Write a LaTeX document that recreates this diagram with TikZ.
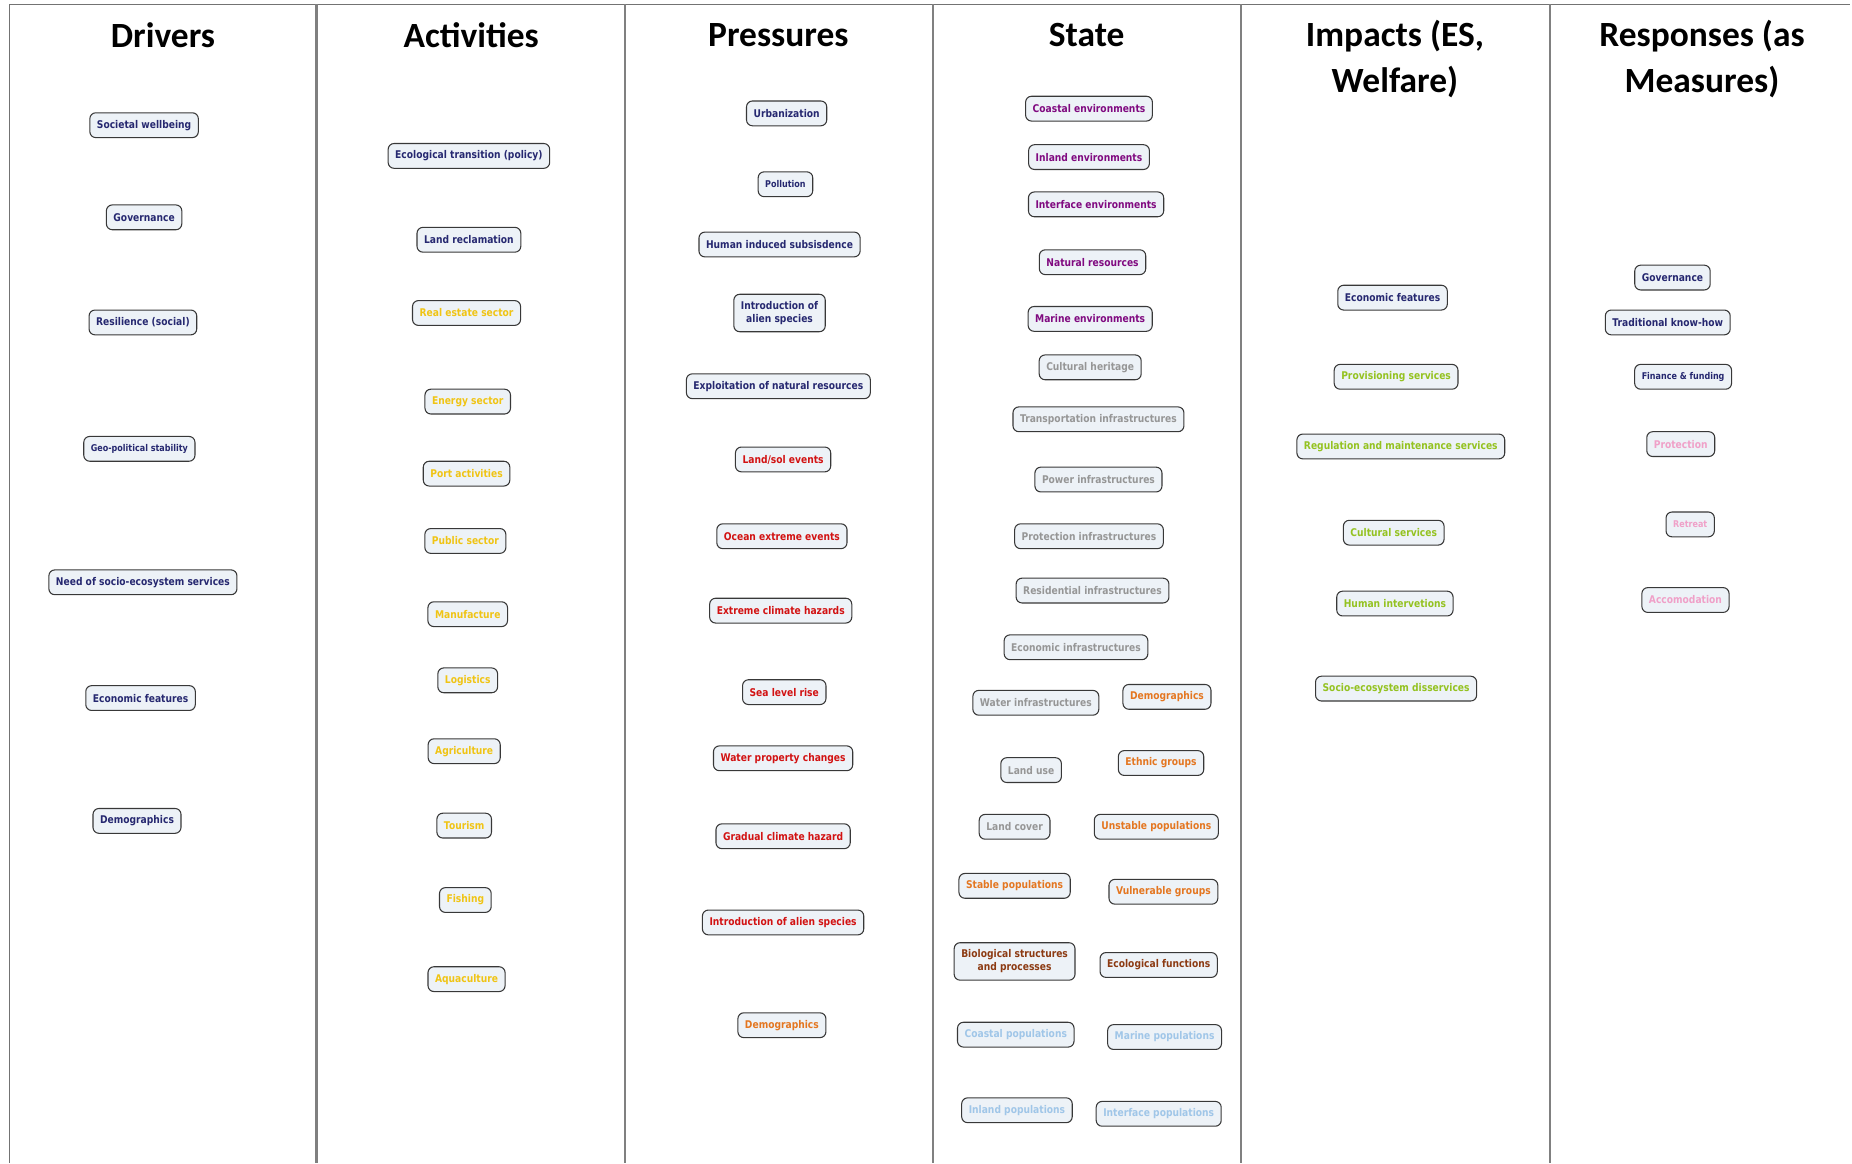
\documentclass[tikz,border=0pt]{standalone}
\usepackage{fontspec}
\newfontfamily\boxfont[FakeStretch=0.86]{DejaVu Sans}
\newfontfamily\headfont{Carlito}
\definecolor{boxfill}{RGB}{237,242,247}
\definecolor{navytext}{RGB}{38,40,112}
\definecolor{goldtext}{RGB}{240,196,20}
\definecolor{redtext}{RGB}{210,18,18}
\definecolor{orangetext}{RGB}{228,118,32}
\definecolor{purpletext}{RGB}{128,10,128}
\definecolor{graytext}{RGB}{150,150,150}
\definecolor{browntext}{RGB}{140,58,18}
\definecolor{bluetext}{RGB}{160,198,232}
\definecolor{greentext}{RGB}{148,194,32}
\definecolor{pinktext}{RGB}{240,160,200}

\begin{document}
\begin{tikzpicture}[x=1pt, y=-1pt]
    \tikzset{
        box/.style = {rectangle, draw=black!78, fill=boxfill, line width=0.9pt, rounded corners=5pt, inner xsep=6pt, inner ysep=6pt, minimum height=21pt, align=center, yshift=-1pt, font=\boxfont\bfseries\fontsize{9}{11}\selectfont},
        small/.style = {font=\boxfont\bfseries\fontsize{7.9}{9.5}\selectfont},
        head/.style = {align=center, font=\headfont\bfseries\fontsize{30}{39}\selectfont},
        divider/.style = {draw=black!50, line width=1.8pt},
        border/.style = {draw=black!55, line width=1pt},
        navybox/.style = {box, text=navytext},
        goldbox/.style = {box, text=goldtext},
        redbox/.style = {box, text=redtext},
        orangebox/.style = {box, text=orangetext},
        purplebox/.style = {box, text=purpletext},
        graybox/.style = {box, text=graytext},
        brownbox/.style = {box, text=browntext},
        bluebox/.style = {box, text=bluetext},
        greenbox/.style = {box, text=greentext},
        pinkbox/.style = {box, text=pinktext},
    }
    \useasboundingbox (0,0) rectangle (1568,985);

    % frame and columns
    \draw[border] (8,3.5) -- (1566,3.5);
    \draw[border] (8,3.5) -- (8,985);
    \draw[divider] (268,3.5) -- (268,985);
    \draw[divider] (529,3.5) -- (529,985);
    \draw[divider] (790,3.5) -- (790,985);
    \draw[divider] (1051,3.5) -- (1051,985);
    \draw[divider] (1312,3.5) -- (1312,985);

    % headings
    \node[head](drivers) at (138,30){Drivers};
    \node[head](activities) at (399,30){Activities};
    \node[head](pressures) at (659,30){Pressures};
    \node[head](state) at (920,30){State};
    \node[head](impacts) at (1181,50){Impacts (ES,\\Welfare)};
    \node[head](responses) at (1441,50){Responses (as\\Measures)};

    % drivers
    \node[navybox](wellbeing) at (122,105){Societal wellbeing};
    \node[navybox](governance) at (122,183){Governance};
    \node[navybox](resilience) at (121,272){Resilience (social)};
    \node[navybox, small](geopolitic) at (118,379){Geo-political stability};
    \node[navybox](needs) at (121,492){Need of socio-ecosystem services};
    \node[navybox](economic) at (119,590){Economic features};
    \node[navybox](demodrv) at (116,694){Demographics};

    % activities
    \node[navybox](transition) at (397,131){Ecological transition (policy)};
    \node[navybox](reclamation) at (397,202){Land reclamation};
    \node[goldbox](realestate) at (395,264){Real estate sector};
    \node[goldbox](energy) at (396,339){Energy sector};
    \node[goldbox](port) at (395,400){Port activities};
    \node[goldbox](public) at (394,457){Public sector};
    \node[goldbox](manufacture) at (396,519){Manufacture};
    \node[goldbox](logistics) at (396,575){Logistics};
    \node[goldbox](agriculture) at (393,635){Agriculture};
    \node[goldbox](tourism) at (393,698){Tourism};
    \node[goldbox](fishing) at (394,761){Fishing};
    \node[goldbox](aquaculture) at (395,828){Aquaculture};

    % pressures
    \node[navybox](urbanization) at (666,95){Urbanization};
    \node[navybox, small](pollution) at (665,155){Pollution};
    \node[navybox](subsidence) at (660,206){Human induced subsisdence};
    \node[navybox](alienprs) at (660,264){Introduction of\\alien species};
    \node[navybox](exploitation) at (659,326){Exploitation of natural resources};
    \node[redbox](landsol) at (663,388){Land/sol events};
    \node[redbox](ocean) at (662,453){Ocean extreme events};
    \node[redbox](extreme) at (661,516){Extreme climate hazards};
    \node[redbox](sealevel) at (664,585){Sea level rise};
    \node[redbox](water) at (663,641){Water property changes};
    \node[redbox](gradual) at (663,707){Gradual climate hazard};
    \node[redbox](alienhaz) at (663,780){Introduction of alien species};
    \node[orangebox](demoprs) at (662,867){Demographics};

    % state
    \node[purplebox](coastalenv) at (922,91){Coastal environments};
    \node[purplebox](inlandenv) at (922,132){Inland environments};
    \node[purplebox](interfaceenv) at (928,172){Interface environments};
    \node[purplebox](natural) at (925,221){Natural resources};
    \node[purplebox](marineenv) at (923,269){Marine environments};
    \node[graybox](heritage) at (923,310){Cultural heritage};
    \node[graybox](transport) at (930,354){Transportation infrastructures};
    \node[graybox](power) at (930,405){Power infrastructures};
    \node[graybox](protectinfra) at (922,453){Protection infrastructures};
    \node[graybox](residential) at (925,499){Residential infrastructures};
    \node[graybox](econinfra) at (911,547){Economic infrastructures};
    \node[graybox](waterinfra) at (877,594){Water infrastructures};
    \node[orangebox](demostate) at (988,589){Demographics};
    \node[graybox](landuse) at (873,651){Land use};
    \node[orangebox](ethnic) at (983,645){Ethnic groups};
    \node[graybox](landcover) at (859,699){Land cover};
    \node[orangebox](unstable) at (979,699){Unstable populations};
    \node[orangebox](stable) at (859,749){Stable populations};
    \node[orangebox](vulnerable) at (985,754){Vulnerable groups};
    \node[brownbox](biological) at (859,813){Biological structures\\and processes};
    \node[brownbox](ecofunctions) at (981,816){Ecological functions};
    \node[bluebox](coastalpop) at (860,875){Coastal populations};
    \node[bluebox](marinepop) at (986,877){Marine populations};
    \node[bluebox](inlandpop) at (861,939){Inland populations};
    \node[bluebox](interfacepop) at (981,942){Interface populations};

    % impacts
    \node[navybox](econimpact) at (1179,251){Economic features};
    \node[greenbox](provisioning) at (1182,318){Provisioning services};
    \node[greenbox](regulation) at (1186,377){Regulation and maintenance services};
    \node[greenbox](cultural) at (1180,450){Cultural services};
    \node[greenbox](interventions) at (1181,510){Human intervetions};
    \node[greenbox](disservices) at (1182,582){Socio-ecosystem disservices};

    % responses
    \node[navybox](govresp) at (1416,234){Governance};
    \node[navybox](knowhow) at (1412,272){Traditional know-how};
    \node[navybox, small](finance) at (1425,318){Finance \& funding};
    \node[pinkbox](protection) at (1423,375){Protection};
    \node[pinkbox, small](retreat) at (1431,443){Retreat};
    \node[pinkbox](accomodation) at (1427,507){Accomodation};

\end{tikzpicture}
\end{document}
